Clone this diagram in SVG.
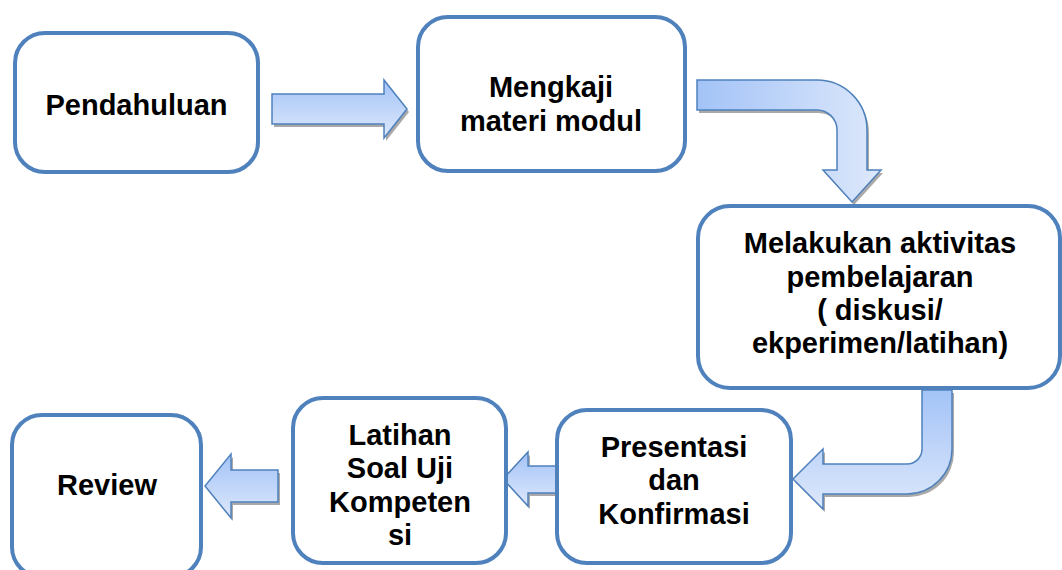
<svg xmlns="http://www.w3.org/2000/svg" xmlns:xlink="http://www.w3.org/1999/xlink" width="1062" height="570" viewBox="0 0 1062 570">
<style>
.box{fill:#ffffff;stroke:#4f81bd;stroke-width:4}
.lbl{font-family:"Liberation Sans",Arial,sans-serif;font-weight:bold;font-size:29px;fill:#000;text-anchor:middle}
.arr{stroke:#4f81bd;stroke-width:1.5;stroke-linejoin:miter}
.shadow{fill:#8c8c8c;opacity:0.75}
</style>
<defs>
<linearGradient id="gV" x1="0" y1="0" x2="0" y2="1">
<stop offset="0" stop-color="#a3c3f7"/>
<stop offset="1" stop-color="#dde8fb"/>
</linearGradient>
<linearGradient id="gH" gradientUnits="userSpaceOnUse" x1="697" y1="0" x2="881" y2="0">
<stop offset="0" stop-color="#a3c3f7"/>
<stop offset="1" stop-color="#dde8fb"/>
</linearGradient>
<linearGradient id="gV2" gradientUnits="userSpaceOnUse" x1="0" y1="390" x2="0" y2="510">
<stop offset="0" stop-color="#a3c3f7"/>
<stop offset="1" stop-color="#dde8fb"/>
</linearGradient>
<path id="a1" d="M272,94 L384,94 L384,80 L407,109 L384,138 L384,124 L272,124 Z"/>
<path id="a2" d="M697,80 L817,80 A50,50 0 0 1 867,130 L867,170 L881,170 L852,202 L823,170 L837,170 L837,130 A20,20 0 0 0 817,110 L697,110 Z"/>
<path id="a3" d="M922,390 L952,390 L952,449 A45,45 0 0 1 907,494 L823,494 L823,509 L793,479 L823,449 L823,464 L907,464 A15,15 0 0 0 922,449 Z"/>
<path id="a4" d="M557,466 L528,466 L528,452 L503,479 L528,506 L528,493 L557,493 Z"/>
<path id="a5" d="M278,470 L231,470 L231,454 L205,486 L231,518 L231,502 L278,502 Z"/>
</defs>
<rect width="1062" height="570" fill="#ffffff"/>
<g id="connectors">
<use xlink:href="#a1" class="shadow" transform="translate(2,3)"/>
<use xlink:href="#a1" class="arr" fill="url(#gV)"/>
<use xlink:href="#a2" class="shadow" transform="translate(2,3)"/>
<use xlink:href="#a2" class="arr" fill="url(#gH)"/>
<use xlink:href="#a3" class="shadow" transform="translate(2,3)"/>
<use xlink:href="#a3" class="arr" fill="url(#gV2)"/>
<use xlink:href="#a4" class="shadow" transform="translate(2,3)"/>
<use xlink:href="#a4" class="arr" fill="url(#gV)"/>
<use xlink:href="#a5" class="shadow" transform="translate(2,3)"/>
<use xlink:href="#a5" class="arr" fill="url(#gV)"/>
</g>
<g id="n-pendahuluan">
<rect class="box" x="15" y="33" width="243" height="139" rx="30"/>
<text class="lbl" x="136.5" y="115">Pendahuluan</text>
</g>
<g id="n-mengkaji">
<rect class="box" x="418" y="17" width="267" height="154" rx="30"/>
<text class="lbl" x="551" y="97">Mengkaji</text>
<text class="lbl" x="551" y="131">materi modul</text>
</g>
<g id="n-melakukan">
<rect class="box" x="698" y="206" width="362" height="182" rx="32"/>
<text class="lbl" x="880" y="253">Melakukan aktivitas</text>
<text class="lbl" x="880" y="287">pembelajaran</text>
<text class="lbl" x="880" y="320">( diskusi/</text>
<text class="lbl" x="880" y="353">ekperimen/latihan)</text>
</g>
<g id="n-presentasi">
<rect class="box" x="557" y="410" width="234" height="153" rx="30"/>
<text class="lbl" x="674" y="457">Presentasi</text>
<text class="lbl" x="674" y="490">dan</text>
<text class="lbl" x="674" y="524">Konfirmasi</text>
</g>
<g id="n-latihan">
<rect class="box" x="293" y="398" width="213" height="165" rx="30"/>
<text class="lbl" x="400" y="445">Latihan</text>
<text class="lbl" x="400" y="478">Soal Uji</text>
<text class="lbl" x="400" y="512">Kompeten</text>
<text class="lbl" x="400" y="545">si</text>
</g>
<g id="n-review">
<rect class="box" x="12" y="415" width="189" height="162" rx="30"/>
<text class="lbl" x="107" y="495">Review</text>
</g>
</svg>
